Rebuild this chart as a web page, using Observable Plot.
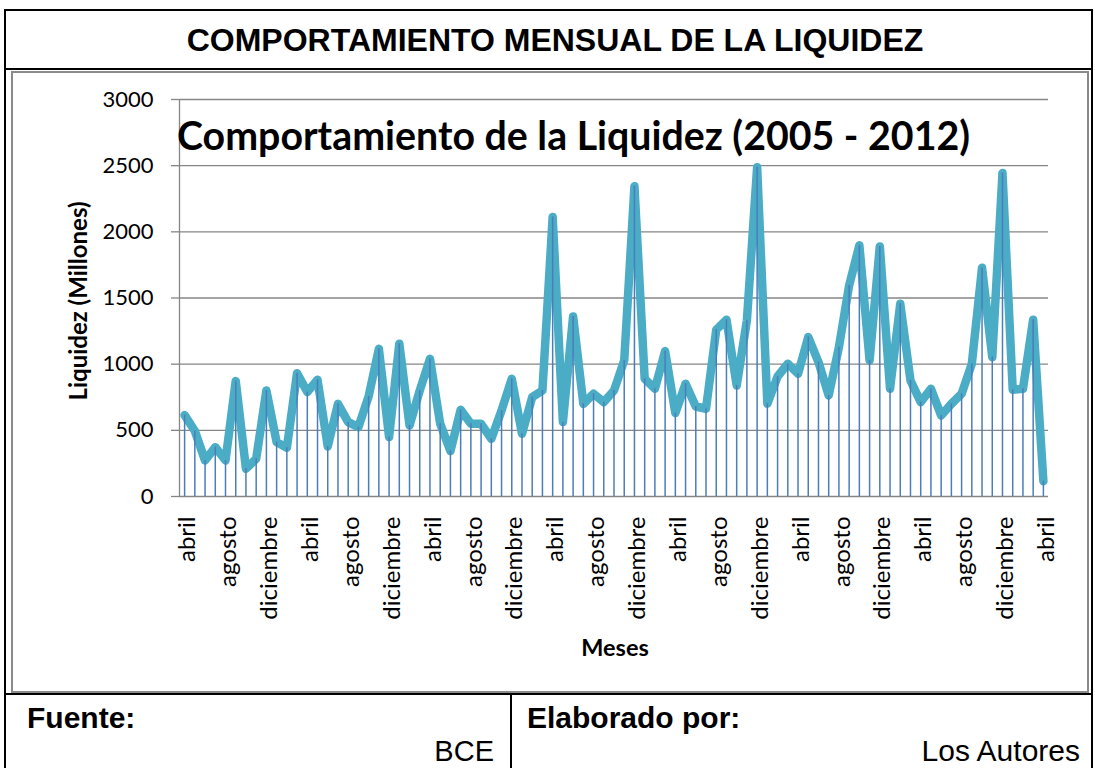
<!DOCTYPE html>
<html>
<head>
<meta charset="utf-8">
<script src="https://cdn.jsdelivr.net/npm/d3@7"></script>
<script src="https://cdn.jsdelivr.net/npm/@observablehq/plot@0.6"></script>
<style>
html, body { margin: 0; padding: 0; background: #fff; }
#page { position: relative; width: 1095px; height: 768px; overflow: hidden; }
#page svg { position: absolute; left: 0; top: 0; }
</style>
</head>
<body>
<div id="page"></div>
<script>
// ---- data ----
const mesesDelAnio = ["enero","febrero","marzo","abril","mayo","junio","julio","agosto","septiembre","octubre","noviembre","diciembre"];
const primerMes = 3; // abril 2005
const liquidez = [615,495,272,373,272,872,209,285,801,411,368,932,789,882,378,700,562,524,756,1116,449,1154,537,801,1041,549,343,655,549,549,436,650,890,474,751,801,2112,562,1361,700,776,713,801,1028,2344,890,814,1099,630,852,680,663,1260,1336,839,1331,2488,700,907,1003,927,1205,1016,764,1129,1595,1898,1028,1890,814,1457,877,713,814,612,700,776,1003,1729,1053,2444,806,814,1336,115];
const yTicks = [0, 500, 1000, 1500, 2000, 2500, 3000];
const pasoEtiqueta = 4;

const tituloCuadro = "COMPORTAMIENTO MENSUAL DE LA LIQUIDEZ";
const tituloGrafico = "Comportamiento de la Liquidez (2005 - 2012)";
const ejeY = "Liquidez (Millones)";
const ejeX = "Meses";

const data = liquidez.map((v, i) => ({ i, mes: mesesDelAnio[(primerMes + i) % 12], v }));
const etiquetas = data.filter(d => d.i % pasoEtiqueta === 0);

const gris = "#868686";

const chart = Plot.plot({
  width: 1095,
  height: 768,
  marginLeft: 179,
  marginRight: 47,
  marginTop: 99,
  marginBottom: 272,
  style: { fontFamily: "Lato, sans-serif", background: "transparent", color: "#000", overflow: "visible" },
  x: { domain: [-0.5, liquidez.length - 0.5], axis: null },
  y: { domain: [0, 3000], axis: null },
  marks: [
    Plot.gridY(yTicks, { stroke: gris, strokeOpacity: 1, strokeWidth: 1.3 }),
    Plot.axisY({ ticks: yTicks, tickSize: 8, tickPadding: 18, stroke: gris, strokeWidth: 1.3, fill: "#000", fontSize: 22, label: null, tickFormat: d => String(d) }),
    Plot.ruleX([-0.5], { stroke: gris, strokeWidth: 1.3 }),
    Plot.line(data, { x: "i", y: "v", stroke: "#4bacc6", strokeWidth: 8.5, strokeLinejoin: "round", strokeLinecap: "round" }),
    Plot.ruleX(data, { x: "i", y1: 0, y2: "v", stroke: "#4a7ebb", strokeWidth: 1.5 }),
    Plot.text(etiquetas, { x: "i", text: "mes", frameAnchor: "bottom", rotate: -90, textAnchor: "end", lineAnchor: "middle", dy: 20, dx: 3, fontSize: 24, fill: "#000" })
  ]
});
document.getElementById("page").appendChild(chart);

// ---- frame and texts ----
const svg = d3.select("#page").append("svg")
  .attr("width", 1095).attr("height", 768)
  .style("pointer-events", "none");

// gray chart box
svg.append("rect").attr("x", 12).attr("y", 72).attr("width", 1076).attr("height", 620)
  .attr("fill", "none").attr("stroke", "#8a8a8a").attr("stroke-width", 2);
// outer table border
svg.append("rect").attr("x", 5).attr("y", 10).attr("width", 1087).attr("height", 800)
  .attr("fill", "none").attr("stroke", "#000").attr("stroke-width", 2);
svg.append("line").attr("x1", 5).attr("x2", 1092).attr("y1", 69).attr("y2", 69).attr("stroke", "#000").attr("stroke-width", 2);
svg.append("line").attr("x1", 5).attr("x2", 1092).attr("y1", 694).attr("y2", 694).attr("stroke", "#000").attr("stroke-width", 2);
svg.append("line").attr("x1", 511).attr("x2", 511).attr("y1", 694).attr("y2", 770).attr("stroke", "#000").attr("stroke-width", 2);

const arial = "'Liberation Sans', Arial, sans-serif";
svg.append("text").attr("x", 555).attr("y", 51).attr("text-anchor", "middle")
  .attr("font-family", arial).attr("font-weight", "bold").attr("font-size", 32).text(tituloCuadro);
svg.append("text").attr("x", 27).attr("y", 728)
  .attr("font-family", arial).attr("font-weight", "bold").attr("font-size", 30).text("Fuente:");
svg.append("text").attr("x", 494).attr("y", 761).attr("text-anchor", "end")
  .attr("font-family", arial).attr("font-size", 29).text("BCE");
svg.append("text").attr("x", 527).attr("y", 728)
  .attr("font-family", arial).attr("font-weight", "bold").attr("font-size", 30).text("Elaborado por:");
svg.append("text").attr("x", 1080).attr("y", 761).attr("text-anchor", "end")
  .attr("font-family", arial).attr("font-size", 30).text("Los Autores");

svg.append("text").attr("x", 177).attr("y", 150)
  .attr("font-family", "Lato, sans-serif").attr("font-weight", "bold").attr("font-size", 39.3).text(tituloGrafico);
svg.append("text").attr("transform", "translate(87,301) rotate(-90)").attr("text-anchor", "middle")
  .attr("font-family", "Lato, sans-serif").attr("font-weight", "bold").attr("font-size", 24).text(ejeY);
svg.append("text").attr("x", 615).attr("y", 656).attr("text-anchor", "middle")
  .attr("font-family", "Lato, sans-serif").attr("font-weight", "bold").attr("font-size", 23.5).text(ejeX);
</script>
</body>
</html>
